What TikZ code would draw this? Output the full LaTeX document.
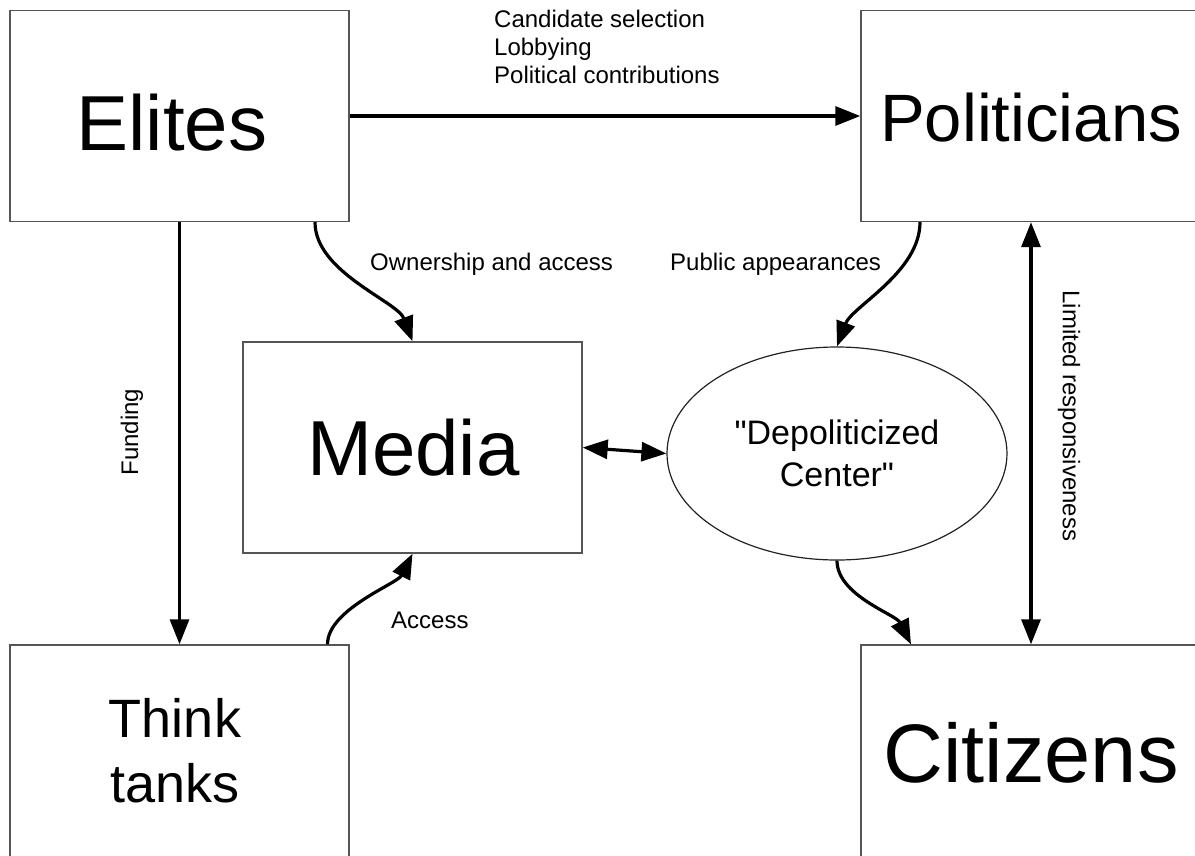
\documentclass[tikz,border=0pt]{standalone}
\usepackage{fontspec}
\setmainfont{Liberation Sans}[Ligatures=TeXOff]
\usetikzlibrary{arrows.meta,shapes.geometric}
\definecolor{boxgray}{HTML}{555555}
\definecolor{ovalgray}{HTML}{222222}
\begin{document}
\begin{tikzpicture}[x=1pt,y=1pt,
  box/.style={draw=boxgray, line width=1.4pt, minimum width=339pt,
    minimum height=211pt, inner sep=0pt},
  oval/.style={draw=ovalgray, ellipse, line width=1.2pt, minimum width=340pt,
    minimum height=213pt, inner sep=0pt, align=center,
    font=\fontsize{34}{42}\selectfont},
  bigtext/.style={inner sep=0pt, anchor=base},
  lbl/.style={inner sep=0pt, font=\fontsize{24}{28}\selectfont},
  flow/.style={line width=3.2pt, -{Triangle[length=25pt 0 0, width=19pt 0 0]}},
  twoway/.style={line width=3.2pt,
    {Triangle[length=25pt 0 0, width=19pt 0 0]}-{Triangle[length=25pt 0 0, width=19pt 0 0]}}
]
\useasboundingbox (0,0) rectangle (1195,-855);
\clip (0,0) rectangle (1195,-855);

% boxes (the right and bottom ones run off the edge of the page)
\node[box] (elites) at (179.5,-116) {};
\node[box, minimum width=360pt] (politicians) at (1041,-116) {};
\node[box] (media) at (412.5,-447.5) {};
\node[box, minimum height=240pt] (think) at (179.5,-765) {};
\node[box, minimum width=360pt, minimum height=240pt] (citizens) at (1041,-765) {};
\node[oval] (center) at (837,-453.5) {"Depoliticized\\Center"};

% box titles
\node[bigtext, font=\fontsize{78}{90}\selectfont] (elitesT) at (172,-150) {Elites};
\node[bigtext, font=\fontsize{67}{80}\selectfont] (politiciansT) at (1031,-141) {Politicians};
\node[bigtext, font=\fontsize{78}{90}\selectfont] (mediaT) at (413.5,-475) {Media};
\node[bigtext, font=\fontsize{83}{95}\selectfont] (citizensT) at (1031,-782) {Citizens};
\node[inner sep=0pt, align=center, font=\fontsize{54}{65}\selectfont] (thinkT)
  at (175,-751) {Think\\tanks};

% connectors
\draw[flow] (elites.east) -- (politicians.west);
\draw[flow] (elites.south) -- (think.north);
\draw[flow] ([xshift=135.5pt]elites.south) .. controls +(0,-50) and +(-15,40) .. (media.north);
\draw[flow] ([xshift=-121pt]politicians.south) .. controls +(0,-50) and +(15,40) .. (center.north);
\draw[twoway] (media.east) -- (center.west);
\draw[flow] ([xshift=148pt]think.north) .. controls +(0,35) and +(-15,-30) .. (media.south);
\draw[flow] (center.south) .. controls +(0,-35) and +(-15,30) .. ([xshift=-130pt]citizens.north);
\draw[twoway] ([xshift=-10pt]politicians.south) -- ([xshift=-10pt]citizens.north);

% connector labels
\node[lbl, anchor=north west, align=left] (lblTop) at (494,-10)
  {Candidate selection\\Lobbying\\Political contributions};
\node[lbl, anchor=base west] (lblOwn) at (370,-270) {Ownership and access};
\node[lbl, anchor=base west] (lblPub) at (670,-270) {Public appearances};
\node[lbl, anchor=base west] (lblAcc) at (391,-628) {Access};
\node[lbl, rotate=90] (lblFund) at (132,-432) {Funding};
\node[lbl, rotate=-90] (lblLim) at (1069,-416) {Limited responsiveness};
\end{tikzpicture}
\end{document}
